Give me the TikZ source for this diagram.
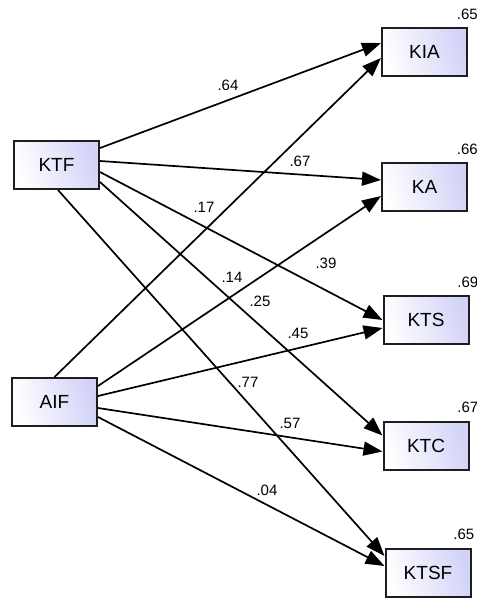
\documentclass[tikz,border=0pt]{standalone}
\usepackage{fontspec}
\setmainfont{Liberation Sans}
\usetikzlibrary{arrows.meta}

\tikzset{
  varbox/.style={draw={rgb,255:red,30;green,30;blue,30}, line width=2pt,
    left color=white, right color={rgb,255:red,210;green,210;blue,248},
    shading angle=105, minimum width=85pt, minimum height=48pt,
    inner sep=0pt, font=\fontsize{19}{21}\selectfont},
  path/.style={line width=1.7pt, -{Triangle[length=19pt,width=14pt]}},
  coef/.style={font=\fontsize{15}{17}\selectfont, inner sep=0pt},
  rsq/.style={coef, anchor=east}
}

\begin{document}
\begin{tikzpicture}[x=1pt,y=1pt,yscale=-1,xscale=1]
\useasboundingbox (0,0) rectangle (477,598);

% Text Node
\node [varbox] (KTF) at (56.5,165) {KTF};
% Text Node
\node [varbox] (AIF) at (54.5,402) {AIF};
% Text Node
\node [varbox] (KIA) at (424.5,52) {KIA};
% Text Node
\node [varbox] (KA) at (424.5,187) {KA};
% Text Node
\node [varbox] (KTS) at (426,320) {KTS};
% Text Node
\node [varbox] (KTC) at (426,445.5) {KTC};
% Text Node
\node [varbox] (KTSF) at (428,573) {KTSF};

% Connection (yshift runs downwards here, yscale=-1)
\draw [path] ([yshift=-17pt]KTF.east) -- ([yshift=-9pt]KIA.west);
% Connection
\draw [path] ([yshift=-4pt]KTF.east) -- ([yshift=-7pt]KA.west);
% Connection
\draw [path] ([yshift=7pt]KTF.east) -- ([yshift=0pt]KTS.west);
% Connection
\draw [path] ([yshift=17pt]KTF.east) -- ([yshift=-10pt]KTC.west);
% Connection
\draw [path] ([xshift=1.5pt]KTF.south) -- ([yshift=-17pt]KTSF.west);
% Connection
\draw [path] (AIF.north) -- ([yshift=6pt]KIA.west);
% Connection
\draw [path] ([yshift=-16pt]AIF.east) -- ([yshift=9pt]KA.west);
% Connection
\draw [path] ([yshift=-6pt]AIF.east) -- ([yshift=8pt]KTS.west);
% Connection
\draw [path] ([yshift=6pt]AIF.east) -- ([yshift=6pt]KTC.west);
% Connection
\draw [path] ([yshift=15pt]AIF.east) -- ([yshift=-7pt]KTSF.west);

% Path coefficients
\node [coef] (c64) at (228,85) {.64};
\node [coef] (c67) at (300,161) {.67};
\node [coef] (c17) at (204,207) {.17};
\node [coef] (c39) at (326,263) {.39};
\node [coef] (c14) at (232,277) {.14};
\node [coef] (c25) at (260,301) {.25};
\node [coef] (c45) at (298,333) {.45};
\node [coef] (c77) at (248,382) {.77};
\node [coef] (c57) at (290,423) {.57};
\node [coef] (c04) at (267,490) {.04};

% Squared multiple correlations
\node [rsq] (rKIA) at ([xshift=10pt,yshift=-13pt]KIA.north east) {.65};
\node [rsq] (rKA) at ([xshift=10pt,yshift=-13pt]KA.north east) {.66};
\node [rsq] (rKTS) at ([xshift=9pt,yshift=-13pt]KTS.north east) {.69};
\node [rsq] (rKTC) at ([xshift=9pt,yshift=-13pt]KTC.north east) {.67};
\node [rsq] (rKTSF) at ([xshift=3pt,yshift=-14pt]KTSF.north east) {.65};

\end{tikzpicture}
\end{document}
